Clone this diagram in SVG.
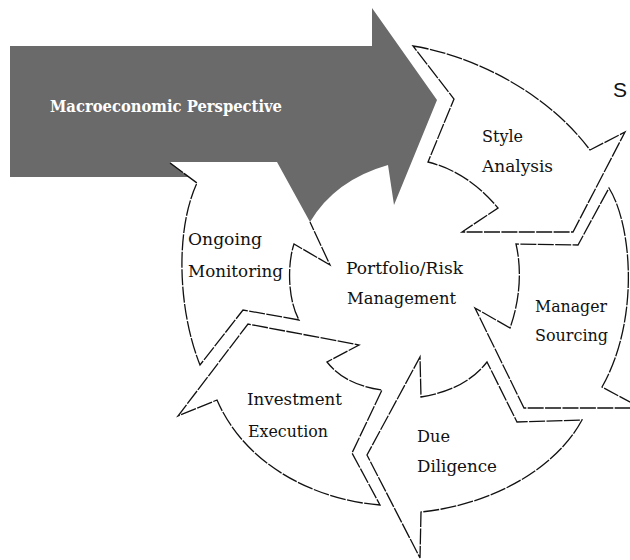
<svg xmlns="http://www.w3.org/2000/svg" width="630" height="560" viewBox="0 0 630 560">
<style>
.seg{fill:none;stroke:#111;stroke-width:1.3;stroke-dasharray:16 1.4;stroke-linejoin:miter}
.lbl{font-family:"DejaVu Serif","Liberation Serif",serif;font-size:17px;fill:#111}
.ttl{font-family:"DejaVu Serif","Liberation Serif",serif;font-size:16px;font-weight:bold;fill:#fff}
</style>
<rect width="630" height="560" fill="#fff"/>
<g id="macro">
<path d="M10,46 L372,46 L372,8 L437,100 L394,205 L388,165 Q335,180 310,222 L277,162 L170,162 L189,177 L10,177 Z" fill="#6a6a6a"/>
<text class="ttl" x="50" y="112" textLength="232" lengthAdjust="spacingAndGlyphs">Macroeconomic Perspective</text>
</g>
<g id="connectors">
<path id="style-analysis-shape" class="seg" d="M413,46 C470,55 545,90 590,150 L625,132 L573,232 L462,232 L498,208 Q468,172 428,162 L454,99 Z"/>
<path id="manager-sourcing-shape" class="seg" d="M609,188 C632,225 640,320 602,387 L641,408 L524,408 L475,308 L510,328 C520,300 522,270 516,244 L578,245 Z"/>
<path id="due-diligence-shape" class="seg" d="M582,420 C555,470 490,505 421,512 L420,558 L367,455 L420,357 L421,397 Q465,390 487,362 L517,422 Z"/>
<path id="investment-execution-shape" class="seg" d="M380,505 C315,500 245,465 217,400 L178,416 L248,324 L359,345 L327,362 Q345,385 382,390 L352,453 Z"/>
<path id="ongoing-monitoring-shape" class="seg" d="M170,163 L197,183 C175,230 178,310 200,365 L243,310 L299,320 C288,300 287,265 294,244 L330,265 L310,222"/>
</g>
<g id="style-analysis"><text class="lbl" x="482" y="142" textLength="41" lengthAdjust="spacingAndGlyphs">Style</text><text class="lbl" x="482" y="172" textLength="71" lengthAdjust="spacingAndGlyphs">Analysis</text></g>
<g id="manager-sourcing"><text class="lbl" x="535" y="312" textLength="72" lengthAdjust="spacingAndGlyphs">Manager</text><text class="lbl" x="535" y="341" textLength="73" lengthAdjust="spacingAndGlyphs">Sourcing</text></g>
<g id="due-diligence"><text class="lbl" x="417" y="442" textLength="33" lengthAdjust="spacingAndGlyphs">Due</text><text class="lbl" x="417" y="472" textLength="80" lengthAdjust="spacingAndGlyphs">Diligence</text></g>
<g id="investment-execution"><text class="lbl" x="247" y="405" textLength="95" lengthAdjust="spacingAndGlyphs">Investment</text><text class="lbl" x="248" y="437" textLength="80" lengthAdjust="spacingAndGlyphs">Execution</text></g>
<g id="ongoing-monitoring"><text class="lbl" x="188" y="245" textLength="74" lengthAdjust="spacingAndGlyphs">Ongoing</text><text class="lbl" x="188" y="277" textLength="95" lengthAdjust="spacingAndGlyphs">Monitoring</text></g>
<g id="portfolio-risk"><text class="lbl" x="346" y="274" textLength="117" lengthAdjust="spacingAndGlyphs">Portfolio/Risk</text><text class="lbl" x="347" y="304" textLength="109" lengthAdjust="spacingAndGlyphs">Management</text></g>
<g id="s-mark"><text x="613" y="97" font-family="Liberation Sans,Arial,sans-serif" font-size="21" fill="#111">S</text></g>
</svg>
